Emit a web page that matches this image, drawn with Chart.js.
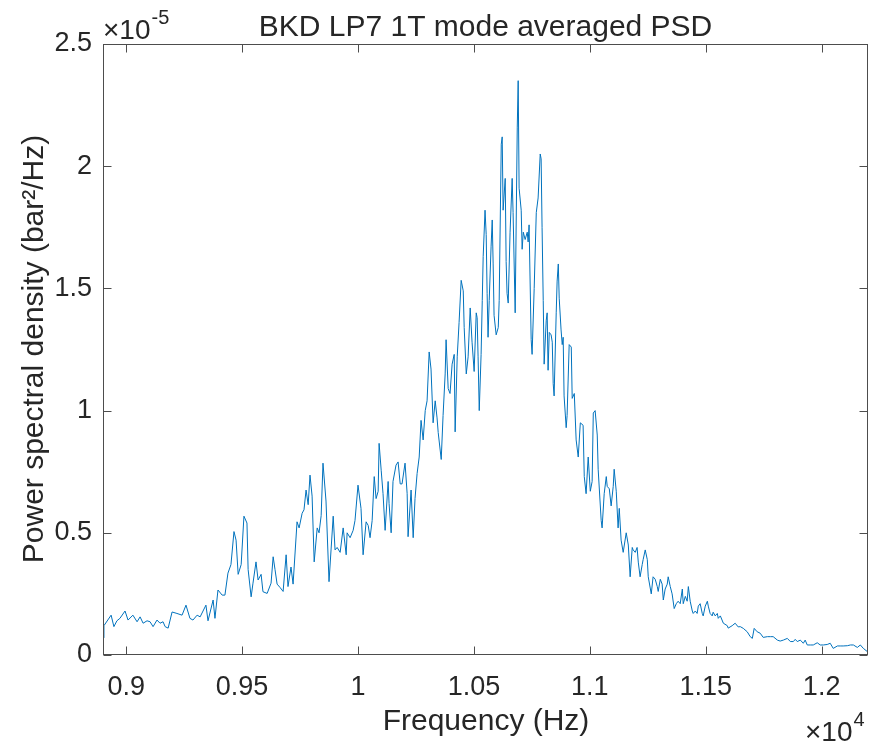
<!DOCTYPE html>
<html>
<head>
<meta charset="utf-8">
<script src="https://cdn.jsdelivr.net/npm/chart.js@4/dist/chart.umd.min.js"></script>
<style>
  body { margin: 0; background: #fff; }
  canvas { display: block; }
</style>
</head>
<body>
<canvas id="grafico" width="869" height="745"></canvas>
<script>
// frequencia (Hz)
const freq = [
  8900,8904,8935,8947,8960,8973,8995,9008,9029,9047,
  9060,9073,9090,9103,9116,9133,9146,9159,9168,9181,
  9198,9219,9241,9258,9275,9288,9306,9319,9344,9353,
  9375,9383,9396,9414,9426,9439,9452,9465,9474,9483,
  9496,9508,9521,9526,9539,9547,9560,9569,9582,9590,
  9608,9625,9634,9642,9651,9664,9677,9690,9698,9711,
  9720,9737,9746,9759,9767,9776,9785,9793,9802,9811,
  9824,9832,9841,9849,9862,9875,9893,9901,9910,9923,
  9936,9949,9953,9966,9979,9987,10000,10013,10022,10035,
  10044,10052,10061,10070,10078,10087,10091,10100,10108,10117,
  10130,10134,10143,10151,10164,10173,10182,10190,10203,10212,
  10216,10229,10238,10246,10255,10264,10272,10281,10290,10298,
  10307,10315,10324,10333,10341,10346,10359,10367,10376,10380,
  10389,10397,10406,10415,10419,10428,10436,10445,10454,10458,
  10467,10475,10484,10492,10501,10510,10514,10518,10523,10531,
  10536,10540,10548,10553,10557,10561,10566,10574,10579,10583,
  10587,10596,10605,10609,10618,10622,10626,10635,10639,10643,
  10648,10656,10665,10669,10678,10687,10691,10695,10704,10708,
  10713,10721,10730,10734,10738,10747,10751,10760,10769,10777,
  10786,10790,10794,10799,10803,10812,10816,10820,10825,10833,
  10838,10842,10846,10855,10859,10864,10868,10876,10881,10885,
  10889,10898,10902,10911,10920,10924,10933,10941,10950,10959,
  10971,10976,10984,10993,11002,11010,11015,11023,11032,11036,
  11049,11053,11062,11071,11075,11084,11092,11101,11105,11114,
  11122,11127,11135,11144,11157,11166,11174,11183,11187,11196,
  11204,11209,11217,11226,11230,11239,11248,11252,11265,11273,
  11282,11291,11295,11304,11312,11317,11325,11334,11338,11347,
  11355,11364,11373,11381,11390,11399,11403,11412,11420,11425,
  11433,11442,11446,11455,11463,11468,11476,11485,11489,11498,
  11507,11511,11519,11528,11532,11541,11550,11554,11563,11576,
  11593,11597,11614,11627,11640,11649,11662,11679,11692,11701,
  11709,11722,11735,11748,11766,11779,11791,11809,11821,11835,
  11852,11865,11878,11886,11895,11908,11921,11929,11938,11951,
  11964,11981,11994,12007,12024,12037,12050,12068,12080,12093,
  12111,12124,12137,12154,12167,12180,12197
];

// PSD em unidades de 1e-5 bar^2/Hz
const psd = [
  0.07,0.12,0.163,0.116,0.14,0.15,0.18,0.143,0.163,0.136,
  0.156,0.13,0.14,0.136,0.116,0.143,0.13,0.136,0.116,0.11,
  0.176,0.17,0.163,0.204,0.15,0.143,0.163,0.156,0.204,0.14,
  0.225,0.15,0.266,0.245,0.245,0.335,0.37,0.505,0.47,0.33,
  0.37,0.568,0.54,0.35,0.238,0.294,0.381,0.307,0.33,0.259,
  0.252,0.294,0.402,0.35,0.29,0.276,0.26,0.41,0.28,0.36,
  0.29,0.545,0.52,0.58,0.594,0.675,0.615,0.736,0.65,0.381,
  0.52,0.5,0.57,0.785,0.63,0.3,0.568,0.43,0.44,0.42,
  0.52,0.41,0.5,0.48,0.51,0.55,0.695,0.6,0.41,0.545,
  0.53,0.48,0.55,0.73,0.64,0.67,0.866,0.756,0.66,0.51,
  0.71,0.62,0.5,0.71,0.777,0.79,0.7,0.7,0.785,0.66,
  0.484,0.675,0.48,0.64,0.743,0.81,0.96,0.88,1.0,1.04,
  1.24,1.17,0.95,1.04,0.97,0.91,0.8,0.98,1.15,1.29,
  1.09,1.07,1.19,1.23,0.913,1.22,1.36,1.533,1.49,1.34,
  1.15,1.22,1.42,1.28,1.16,1.4,1.38,1.22,1.0,1.23,
  1.45,1.63,1.82,1.72,1.48,1.3,1.45,1.67,1.78,1.6,
  1.39,1.31,1.34,1.45,2.09,2.12,1.82,1.95,1.61,1.48,
  1.44,1.73,1.95,1.81,1.4,2.16,2.35,1.91,1.82,1.66,
  1.73,1.7,1.73,1.69,1.76,1.29,1.23,1.5,1.81,1.87,
  2.05,2.03,1.75,1.45,1.19,1.37,1.4,1.165,1.32,1.31,
  1.28,1.11,1.06,1.4,1.53,1.6,1.46,1.33,1.27,1.3,
  1.06,0.93,0.98,1.27,1.26,1.05,1.07,0.88,0.81,0.95,
  0.94,0.73,0.66,0.81,0.67,0.71,0.99,1.0,0.9,0.76,
  0.55,0.52,0.66,0.73,0.69,0.68,0.61,0.69,0.76,0.67,
  0.52,0.6,0.47,0.42,0.5,0.45,0.32,0.44,0.43,0.42,
  0.44,0.38,0.32,0.37,0.39,0.43,0.39,0.32,0.25,0.32,
  0.31,0.28,0.26,0.31,0.29,0.225,0.27,0.29,0.32,0.28,
  0.25,0.19,0.21,0.22,0.21,0.27,0.21,0.24,0.22,0.28,
  0.22,0.18,0.17,0.18,0.17,0.2,0.21,0.17,0.16,0.2,
  0.22,0.2,0.17,0.16,0.175,0.16,0.17,0.15,0.16,0.13,
  0.12,0.11,0.12,0.13,0.115,0.116,0.109,0.095,0.075,0.068,
  0.109,0.095,0.089,0.072,0.075,0.075,0.075,0.061,0.057,0.061,
  0.068,0.055,0.055,0.064,0.055,0.061,0.048,0.061,0.041,0.041,
  0.041,0.05,0.041,0.041,0.043,0.048,0.027,0.037,0.037,0.037,
  0.038,0.041,0.041,0.031,0.041,0.027,0.014
];

// ticks dos eixos
const xTicks = [9000, 9500, 10000, 10500, 11000, 11500, 12000];
const yTicks = [0, 0.5, 1, 1.5, 2, 2.5];

const corTexto = "#262626";
const corEixo = "#4d4d4d";
const fonte = "'Liberation Sans', Arial, sans-serif";

// escreve "x10" com expoente em sobrescrito
function escreveExpoente(ctx, x, y, exp) {
    ctx.font = "28px " + fonte;
    ctx.fillText("\u00D710", x, y);
    const w = ctx.measureText("\u00D710").width;
    ctx.font = "20px " + fonte;
    ctx.fillText(exp, x + w + 1, y - 15);
}

// desenha moldura, ticks para dentro e os textos estilo matlab
const estiloMatlab = {
    id: "estiloMatlab",
    afterDraw(chart) {
        const ctx = chart.ctx;
        const a = chart.chartArea;
        const sx = chart.scales.x;
        const sy = chart.scales.y;
        ctx.save();
        ctx.strokeStyle = corEixo;
        ctx.lineWidth = 1;
        const L = Math.round(a.left) + 0.5, R = Math.round(a.right) - 0.5;
        const T = Math.round(a.top) + 0.5, B = Math.round(a.bottom) - 0.5;
        ctx.strokeRect(L, T, R - L, B - T);
        ctx.beginPath();
        xTicks.forEach(v => {
            const px = Math.round(sx.getPixelForValue(v)) + 0.5;
            ctx.moveTo(px, B); ctx.lineTo(px, B - 8);
            ctx.moveTo(px, T); ctx.lineTo(px, T + 8);
        });
        yTicks.forEach(v => {
            const py = Math.round(sy.getPixelForValue(v)) + 0.5;
            ctx.moveTo(L, py); ctx.lineTo(L + 8, py);
            ctx.moveTo(R, py); ctx.lineTo(R - 8, py);
        });
        ctx.stroke();

        ctx.fillStyle = corTexto;
        // titulo
        ctx.font = "30px " + fonte;
        ctx.textAlign = "center";
        ctx.textBaseline = "alphabetic";
        ctx.fillText("BKD LP7 1T mode averaged PSD", (a.left + a.right) / 2, 36);
        // eixo x
        ctx.font = "30px " + fonte;
        ctx.fillText("Frequency (Hz)", 486, 730);
        // eixo y
        ctx.save();
        ctx.translate(43, 349);
        ctx.rotate(-Math.PI / 2);
        ctx.fillText("Power spectral density (bar\u00B2/Hz)", 0, 0);
        ctx.restore();
        // expoentes
        ctx.textAlign = "left";
        escreveExpoente(ctx, 103, 39, "-5");
        escreveExpoente(ctx, 805, 741, "4");
        ctx.restore();
    }
};

new Chart(document.getElementById("grafico"), {
    type: "line",
    data: {
        datasets: [{
            data: freq.map((f, i) => ({ x: f, y: psd[i] })),
            borderColor: "#0072BD",
            borderWidth: 1,
            pointRadius: 0,
            tension: 0,
            fill: false
        }]
    },
    options: {
        responsive: false,
        animation: false,
        layout: { padding: { top: 44, right: 1, left: 0, bottom: 0 } },
        plugins: { legend: { display: false }, tooltip: { enabled: false } },
        scales: {
            x: {
                type: "linear",
                min: 8900,
                max: 12200,
                afterFit: s => { s.height = 90; },
                afterBuildTicks: s => { s.ticks = xTicks.map(v => ({ value: v })); },
                grid: { display: false, drawTicks: false },
                border: { display: false },
                ticks: {
                    padding: 16,
                    color: corTexto,
                    font: { family: fonte, size: 27 },
                    callback: v => String(v / 10000)
                }
            },
            y: {
                type: "linear",
                min: 0,
                max: 2.5,
                afterFit: s => { s.width = 103; },
                afterBuildTicks: s => { s.ticks = yTicks.map(v => ({ value: v })); },
                grid: { display: false, drawTicks: false },
                border: { display: false },
                ticks: {
                    padding: 11,
                    color: corTexto,
                    font: { family: fonte, size: 27 },
                    callback: v => String(v)
                }
            }
        }
    },
    plugins: [estiloMatlab]
});
</script>
</body>
</html>
